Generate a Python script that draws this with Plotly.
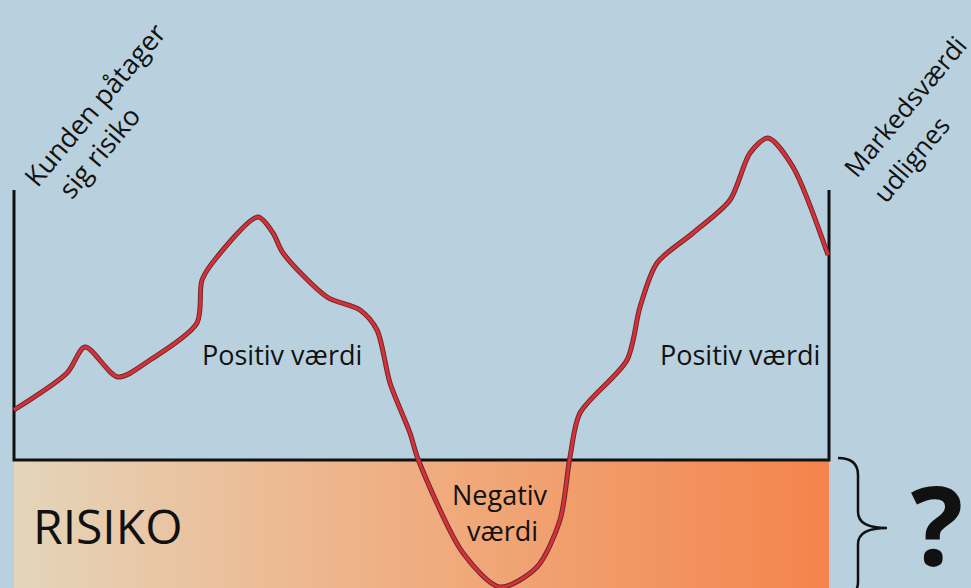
import numpy as np
import plotly.graph_objects as go

# Curve: x position and value (0 = market value baseline)
curve_x = [14, 67, 85, 118, 150, 197, 202, 217, 258, 273, 283, 327, 360, 377, 390, 410,
           418, 463, 500, 537, 560, 570, 580, 627, 640, 657, 693, 730, 750, 768, 793, 828]
curve_v = [50, 87, 113, 83, 100, 137, 180, 203, 243, 227, 207, 163, 150, 130, 77, 27,
           1, -93, -127, -107, -60, 3, 47, 100, 153, 197, 227, 260, 307, 322, 293, 205]

# Frame: start and end of the contract, baseline
frame_left = 14
frame_right = 829
frame_top = 270
risk_bottom = -128

BG = "#b9d1de"
FONT = "Open Sans"

fig = go.Figure()

# Gradient "RISIKO" band
n = 240
edges = np.linspace(frame_left, frame_right, n + 1)
zrow = np.linspace(0, 1, n)
fig.add_trace(go.Heatmap(
    x=edges, y=[risk_bottom - 5, 0], z=[zrow],
    colorscale=[[0, "#e4d5ba"], [0.3, "#ecbc97"], [0.55, "#f0a97a"],
                [0.8, "#f29461"], [1, "#f4844b"]],
    showscale=False, hoverinfo="skip", zmin=0, zmax=1,
))

# Frame lines
fig.add_trace(go.Scatter(
    x=[frame_left, frame_left, frame_right, frame_right],
    y=[frame_top, 0, 0, frame_top],
    mode="lines", line=dict(color="#111111", width=3), hoverinfo="skip",
))

# Curve: dark outline + red line
fig.add_trace(go.Scatter(
    x=curve_x, y=curve_v, mode="lines",
    line=dict(color="#6a2a2a", width=5, shape="spline", smoothing=0.8),
    hoverinfo="skip",
))
fig.add_trace(go.Scatter(
    x=curve_x, y=curve_v, mode="lines",
    line=dict(color="#d8303a", width=3, shape="spline", smoothing=0.8),
    hoverinfo="skip",
))

# Brace
fig.add_shape(type="path",
              path="M 838,2 Q 858,2 858,-15 L 858,-52 Q 858,-68 887,-68 "
                   "Q 858,-68 858,-84 L 858,-122 Q 858,-138 838,-138",
              line=dict(color="#111111", width=2.5), xref="x", yref="y")

def txt(x, y, s, size, angle=0, bold=False, **kw):
    fig.add_annotation(x=x, y=y, text=f"<b>{s}</b>" if bold else s, showarrow=False,
                       textangle=angle, xanchor="center", yanchor="middle",
                       font=dict(family=FONT, size=size, color="#111111"), **kw)

txt(94, 356, "Kunden påtager", 27, -50)
txt(98, 308, "sig risiko", 27, -50)
txt(905, 354, "Markedsværdi", 26, -50)
txt(911, 301, "udlignes", 26, -50)
txt(282, 106, "Positiv værdi", 27)
txt(740, 106, "Positiv værdi", 27)
txt(500, -34, "Negativ", 27)
txt(502, -70, "værdi", 27)
txt(107, -65, "RISIKO", 48)
txt(937, -63, "?", 110, bold=True, height=100, width=60)

fig.update_layout(
    width=971, height=588,
    margin=dict(l=0, r=0, t=0, b=0),
    paper_bgcolor=BG, plot_bgcolor=BG,
    showlegend=False,
    xaxis=dict(range=[0, 971], visible=False, fixedrange=True),
    yaxis=dict(range=[risk_bottom, 460], visible=False, fixedrange=True),
)

fig.write_html(
    "out.html",
    config={"displayModeBar": False},
    post_script=f"document.body.style.margin='0';document.body.style.background='{BG}';"
                "document.body.style.overflow='hidden';",
)
